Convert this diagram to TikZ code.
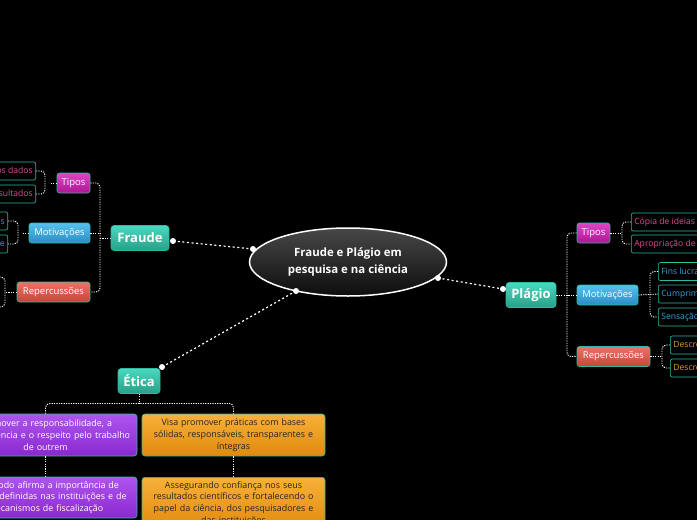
\documentclass[tikz,border=0pt]{standalone}
\usepackage{fontspec}
\setmainfont{Open Sans}
\usetikzlibrary{shapes.geometric}
\definecolor{tealT}{HTML}{4AD8BF}
\definecolor{tealB}{HTML}{28A088}
\definecolor{tealE}{HTML}{2DB9A2}
\definecolor{magT}{HTML}{DC45C4}
\definecolor{magB}{HTML}{AE1696}
\definecolor{bluT}{HTML}{55C2EE}
\definecolor{bluB}{HTML}{2A8CC6}
\definecolor{redT}{HTML}{EC7266}
\definecolor{redB}{HTML}{C8443A}
\definecolor{purT}{HTML}{AE55EE}
\definecolor{purB}{HTML}{8A28D0}
\definecolor{orT}{HTML}{F8B03A}
\definecolor{orB}{HTML}{E08A0C}
\definecolor{pinkTx}{HTML}{DE4E96}
\definecolor{blueTx}{HTML}{3AA0DA}
\definecolor{orTx}{HTML}{E29A2E}
\tikzset{
  mainnode/.style={rectangle, rounded corners=3pt, top color=tealT, bottom color=tealB, draw=tealE, line width=0.6pt, text=white, font=\fontsize{13}{15}\selectfont\bfseries, inner sep=0pt},
  branch/.style={rectangle, rounded corners=2.5pt, draw=tealE, line width=0.6pt, text=white, font=\fontsize{9.5}{11}\selectfont, inner sep=0pt, minimum height=20pt},
  tiposN/.style={branch, top color=magT, bottom color=magB},
  motN/.style={branch, top color=bluT, bottom color=bluB},
  repN/.style={branch, top color=redT, bottom color=redB},
  leaf/.style={rectangle, rounded corners=2pt, draw=tealE, fill=black, line width=0.6pt, font=\fontsize{8.6}{10}\selectfont, inner sep=3pt, minimum height=18pt},
  pleaf/.style={leaf, text=pinkTx},
  bleaf/.style={leaf, text=blueTx},
  oleaf/.style={leaf, text=orTx},
  ebox/.style={rectangle, rounded corners=3pt, draw=tealE, line width=0.6pt, minimum width=183pt, text width=180pt, align=center, inner sep=1.5pt, font=\fontsize{8.9}{11.7}\selectfont},
  pbox/.style={ebox, top color=purT, bottom color=purB, text=white},
  obox/.style={ebox, top color=orT, bottom color=orB, text=black!85},
  br/.style={draw=white, line width=0.9pt, dash pattern=on 1.2pt off 1.2pt, rounded corners=4pt},
  conn/.style={draw=white, line width=1.2pt, dash pattern=on 2pt off 2.6pt},
}
\begin{document}
\begin{tikzpicture}[x=1pt,y=-1pt]
\fill[black] (0,0) rectangle (697,520);
\useasboundingbox (0,0) rectangle (697,520);
\clip (0,0) rectangle (697,520);

% root
\node[ellipse, minimum width=197pt, minimum height=68pt, inner sep=0pt, draw=white, line width=1.5pt, top color=black!72, bottom color=black!95, text=white, align=center, font=\fontsize{11.4}{16.8}\selectfont\bfseries] (root) at (348,262) {Fraude e Plágio em\\pesquisa e na ciência};

% main nodes
\node[mainnode, minimum width=58pt, minimum height=25pt] (fraude) at (140,238) {Fraude};
\node[mainnode, minimum width=50pt, minimum height=25pt] (plagio) at (531,295) {Plágio};
\node[mainnode, minimum width=42pt, minimum height=25pt] (etica) at (139,381) {Ética};

% main connectors
\coordinate (drf) at (253,249);
\coordinate (df) at (173,241);
\coordinate (drp) at (438,278);
\coordinate (dp) at (503,289);
\coordinate (dre) at (296,291);
\coordinate (de) at (162,367);
\draw[conn] (drf) -- (df);
\draw[conn] (drp) -- (dp);
\draw[conn] (dre) -- (de);
\foreach \p in {drf,df,drp,dp,dre,de} \fill[white] (\p) circle (3pt);

% Fraude branches
\node[tiposN, minimum width=33pt] (ftipos) at (73.5,183) {Tipos};
\node[motN, minimum width=61pt] (fmot) at (59.5,233) {Motivações};
\node[repN, minimum width=73pt] (frep) at (53.5,292) {Repercussões};
\draw[br] (ftipos.east) -| (100,238) |- (frep.east);
\draw[br] (fmot.east) -- (100,233);
\draw[br] (fraude.west) -- (100,238);

% Fraude leaves
\node[pleaf, anchor=east] (fl1) at (36,171) {Fabricação dos dados};
\node[pleaf, anchor=east] (fl2) at (36,194) {Falsificação de resultados};
\draw[br] (ftipos.west) -- (51,183);
\draw[br] (fl1.east) -| (45,183) |- (fl2.east);
\node[bleaf, anchor=east] (fm1) at (8,221) {Pressões institucionais};
\node[bleaf, anchor=east] (fm2) at (8,244) {Busca de reconhecimento e prestígio de e};
\draw[br] (fmot.west) -- (22,233);
\draw[br] (fm1.east) -| (18,233) |- (fm2.east);
\node[oleaf, anchor=east] (fr1) at (-3,277) {Descrédito};
\node[oleaf, anchor=east] (fr2) at (-3,307) {Sanções};
\draw[br] (frep.west) -- (5,292);
\draw[br] (fr1.east) -| (5,292) |- (fr2.east);

% Plagio branches
\node[tiposN, minimum width=33pt] (ptipos) at (593.5,233) {Tipos};
\node[motN, minimum width=61pt] (pmot) at (607.5,295) {Motivações};
\node[repN, minimum width=73pt] (prep) at (613.5,356.5) {Repercussões};
\draw[br] (ptipos.west) -| (567,295) |- (prep.west);
\draw[br] (pmot.west) -- (567,295);
\draw[br] (plagio.east) -- (567,295);

% Plagio leaves
\node[pleaf, anchor=west] (pl1) at (631,222) {Cópia de ideias de outros autores};
\node[pleaf, anchor=west] (pl2) at (631,244) {Apropriação de textos alheios};
\draw[br] (ptipos.east) -- (622,233);
\draw[br] (pl1.west) -| (622,233) |- (pl2.west);
\node[bleaf, anchor=west] (pm1) at (658,271.5) {Fins lucrativos};
\node[bleaf, anchor=west] (pm2) at (658,294) {Cumprimento de metas};
\node[bleaf, anchor=west] (pm3) at (658,317) {Sensação de impunidade};
\draw[br] (pm1.west) -| (650,294) |- (pm3.west);
\draw[br] (pmot.east) -- (pm2.west);
\node[oleaf, anchor=west] (pr1) at (670,345) {Descrédito do pesquisador};
\node[oleaf, anchor=west] (pr2) at (670,368) {Descrédito da instituição};
\draw[br] (prep.east) -- (662,356.5);
\draw[br] (pr1.west) -| (662,356.5) |- (pr2.west);

% Etica boxes
\node[pbox, minimum height=42pt] (e1) at (45.5,435) {Promover a responsabilidade, a\\ transparência e o respeito pelo trabalho\\ de outrem};
\node[obox, minimum height=42pt] (e2) at (233.5,435) {Visa promover práticas com bases\\ sólidas, responsáveis, transparentes e\\ íntegras};
\node[pbox, minimum height=41pt] (e3) at (45.5,497.5) {O método afirma a importância de\\ normas definidas nas instituições e de\\ mecanismos de fiscalização};
\node[obox, minimum height=52pt, anchor=north] (e4) at (233.5,477) {Assegurando confiança nos seus\\ resultados científicos e fortalecendo o\\ papel da ciência, dos pesquisadores e\\ das instituições};
\draw[br] (etica.south) -- (139,403.5);
\draw[br] (e1.north) |- (139,403.5) -| (e2.north);
\draw[br] (e1.south) -- (e3.north);
\draw[br] (e2.south) -- (e4.north);
\end{tikzpicture}
\end{document}
